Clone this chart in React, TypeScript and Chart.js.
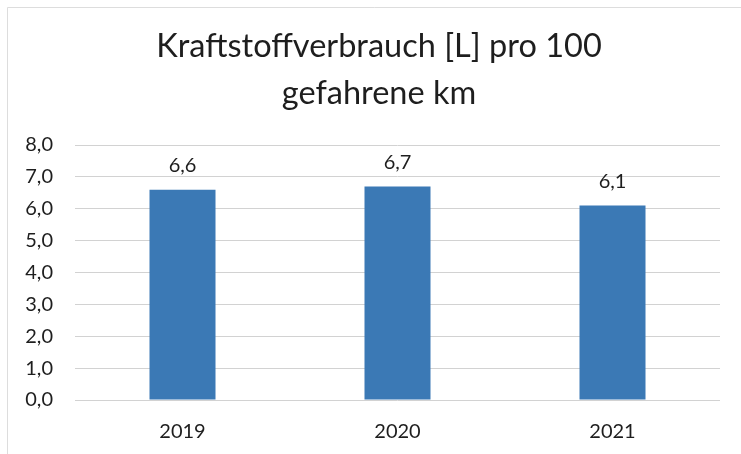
import React, { useEffect, useRef } from "react";
import { Chart, registerables } from "chart.js";

Chart.register(...registerables);

const categories = ["2019", "2020", "2021"];
const values = [6.6, 6.7, 6.1];
const titleLines = ["Kraftstoffverbrauch [L] pro 100", "gefahrene km"];
const yMin = 0;
const yMax = 8;
const yStep = 1;

const fmt = (v: number) => v.toFixed(1).replace(".", ",");

const FONT = "Lato, 'Open Sans', sans-serif";
const TEXT = "#1e1e1e";

const valueLabels = {
  id: "valueLabels",
  afterDatasetsDraw(chart: any) {
    const ctx = chart.ctx;
    const meta = chart.getDatasetMeta(0);
    ctx.save();
    ctx.font = `20px ${FONT}`;
    ctx.fillStyle = TEXT;
    ctx.textAlign = "center";
    ctx.textBaseline = "middle";
    meta.data.forEach((bar: any, i: number) => {
      ctx.fillText(fmt(values[i]), bar.x, bar.y - 24);
    });
    ctx.restore();
  },
};

const titleDraw = {
  id: "titleDraw",
  afterDraw(chart: any) {
    const ctx = chart.ctx;
    ctx.save();
    ctx.font = `32.5px ${FONT}`;
    ctx.fillStyle = TEXT;
    ctx.textAlign = "center";
    ctx.textBaseline = "alphabetic";
    titleLines.forEach((line, i) => {
      ctx.fillText(line, 379, 57 + i * 47);
    });
    ctx.restore();
  },
};

const frame = {
  id: "frame",
  beforeDraw(chart: any) {
    const ctx = chart.ctx;
    ctx.save();
    ctx.fillStyle = "#ffffff";
    ctx.fillRect(0, 0, chart.width, chart.height);
    ctx.strokeStyle = "#dddddd";
    ctx.lineWidth = 1;
    ctx.beginPath();
    ctx.moveTo(7.5, chart.height);
    ctx.lineTo(7.5, 7.5);
    ctx.lineTo(chart.width, 7.5);
    ctx.stroke();
    ctx.restore();
  },
};

export default function App() {
  const ref = useRef<HTMLCanvasElement>(null);
  useEffect(() => {
    document.body.style.margin = "0";
    const chart = new Chart(ref.current!, {
      type: "bar",
      data: {
        labels: categories,
        datasets: [
          {
            data: values,
            backgroundColor: "#3b79b5",
            categoryPercentage: 1,
            barPercentage: 0.307,
          },
        ],
      },
      options: {
        animation: false,
        responsive: false,
        layout: { padding: { left: 0, right: 21, top: 145, bottom: 0 } },
        plugins: {
          legend: { display: false },
          tooltip: { enabled: false },
          title: { display: false },
        },
        scales: {
          x: {
            afterFit(scale: any) {
              scale.height = 54;
            },
            grid: { display: false, drawTicks: false },
            border: { display: false },
            ticks: {
              color: TEXT,
              font: { family: FONT, size: 20 },
              padding: 20,
            },
          },
          y: {
            min: yMin,
            max: yMax,
            afterFit(scale: any) {
              scale.width = 75;
            },
            ticks: {
              stepSize: yStep,
              color: TEXT,
              font: { family: FONT, size: 20 },
              padding: 22,
              callback: (v: any) => fmt(Number(v)),
            },
            grid: { color: "#d2d2d2", drawTicks: false, lineWidth: 1 },
            border: { display: false },
          },
        },
      },
      plugins: [frame, valueLabels, titleDraw],
    });
    return () => chart.destroy();
  }, []);
  return <canvas ref={ref} width={741} height={454} style={{ display: "block" }} />;
}
